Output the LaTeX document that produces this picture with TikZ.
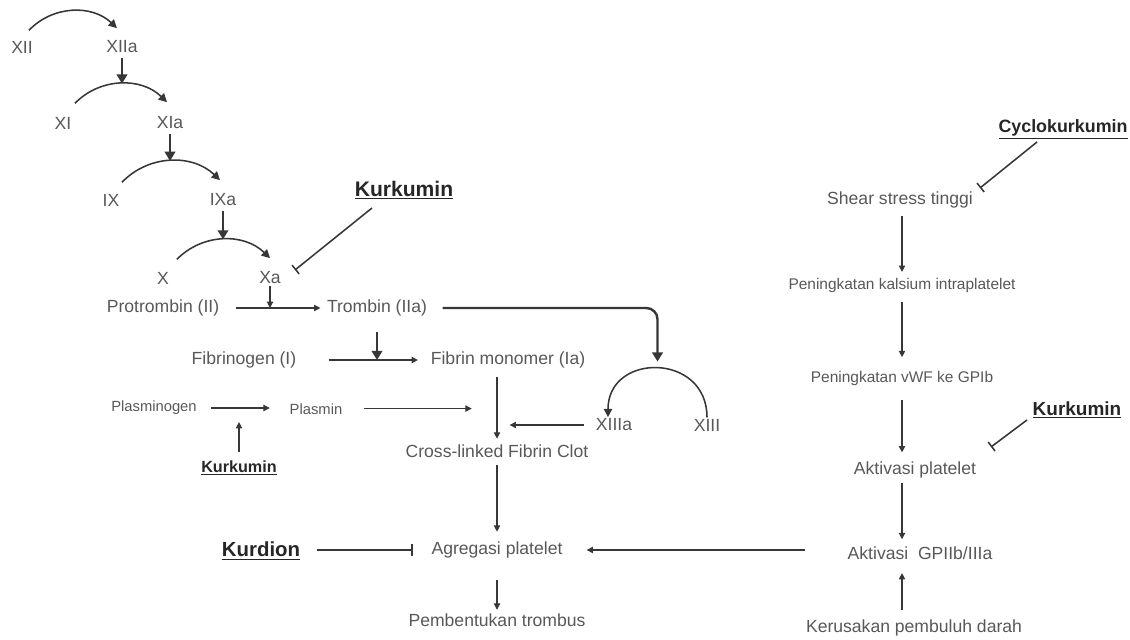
\documentclass[tikz,border=0pt]{standalone}
\usepackage{fontspec}
\setmainfont{Liberation Sans}
\usetikzlibrary{arrows.meta,calc}
\definecolor{txtgray}{RGB}{88,88,88}
\definecolor{drugcol}{RGB}{38,38,38}
\definecolor{linegray}{RGB}{55,55,55}

\tikzset{
  lbl/.style={text=txtgray, inner sep=1pt, font=\fontsize{12.5}{14}\selectfont},
  smlbl/.style={text=txtgray, inner sep=1pt, font=\fontsize{#1}{#1}\selectfont},
  drug/.style={text=drugcol, inner sep=1pt, font=\fontsize{#1}{#1}\selectfont\bfseries},
  act/.style={draw=linegray, line width=0.75pt, -{Triangle[length=4.5pt,width=4.5pt]}},
  bigact/.style={draw=linegray, line width=1.4pt, -{Triangle[length=6.5pt,width=7.5pt]}},
  arcact/.style={draw=linegray, line width=1.1pt, -{Triangle[length=6pt,width=6pt]}},
  inhib/.style={draw=linegray, line width=1.1pt, -{Bar[width=8pt,line width=1.1pt]}},
}

\begin{document}
\begin{tikzpicture}[x=0.025cm, y=0.025cm]
    \useasboundingbox (0,0) rectangle (1130,-639);
    % Cascade
    \node[lbl] (xii) at (22,-47) {XII};
    \node[lbl] (xiia) at (122,-47) {XIIa};
    \node[lbl] (xi) at (63,-123) {XI};
    \node[lbl] (xia) at (170,-123) {XIa};
    \node[lbl] (ix) at (111,-200) {IX};
    \node[lbl] (ixa) at (223,-200) {IXa};
    \node[lbl] (x) at (163,-278) {X};
    \node[lbl] (xa) at (270,-278) {Xa};
    \draw[arcact] ([shift={(7,9)}]xii.north) to[bend left=45] ([shift={(-5,11)}]xiia.north);
    \draw[arcact] ([shift={(12,12)}]xi.north) to[bend left=45] coordinate[pos=0.5] (a2) ([shift={(-3,13)}]xia.north);
    \draw[arcact] ([shift={(11,10)}]ix.north) to[bend left=45] coordinate[pos=0.5] (a3) ([shift={(-3,12)}]ixa.north);
    \draw[arcact] ([shift={(14,11)}]x.north) to[bend left=45] coordinate[pos=0.5] (a4) ([shift={(0,12)}]xa.north);
    \draw[bigact, shorten <=2pt] (xiia.south) -- (xiia.south |- a2);
    \draw[bigact, shorten <=2pt] (xia.south) -- (xia.south |- a3);
    \draw[bigact, shorten <=2pt] (ixa.south) -- (ixa.south |- a4);
    % Kurkumin on Xa
    \node[drug=15] (kurk1) at (404,-190) {\underline{Kurkumin}};
    \draw[inhib] ([shift={(-32,-18)}]kurk1.center) -- ([shift={(25,8)}]xa.center);
    % Trombin
    \node[lbl] (protr) at (163,-308) {Protrombin (II)};
    \node[lbl] (trombin) at (377,-308) {Trombin (IIa)};
    \draw[act, shorten <=11pt, shorten >=3.5pt] (protr.east) -- coordinate[pos=0.36] (p1) (trombin.west);
    \draw[act] (xa.south) -- (xa.south |- p1);
    % Fibrin
    \node[lbl] (fibrinogen) at (244,-360) {Fibrinogen (I)};
    \node[lbl] (fibrinmono) at (508,-360) {Fibrin monomer (Ia)};
    \draw[act, line width=1.1pt, shorten <=22pt, shorten >=8pt] (fibrinogen.east) -- coordinate[pos=0.6] (p2) (fibrinmono.west);
    \draw[bigact, shorten <=10pt] (trombin.south) -- (trombin.south |- p2);
    % Plasmin
    \node[smlbl=10.5] (plasminogen) at (154,-408) {Plasminogen};
    \node[smlbl=10.5] (plasmin) at (316,-409) {Plasmin};
    \draw[act, shorten <=9pt, shorten >=13pt] (plasminogen.east) -- coordinate[pos=0.49] (p3) (plasminogen.east -| plasmin.west);
    \node[drug=11.5] (kurk2) at (239,-468) {\underline{Kurkumin}};
    \draw[act, shorten <=5pt, shorten >=10pt] (kurk2.north) -- (kurk2.north |- p3);
    % Clot
    \node[lbl] (clot) at (497,-451) {Cross-linked Fibrin Clot};
    \draw[act, shorten <=5pt, shorten >=3pt] (fibrinmono.south -| clot.north) -- coordinate[pos=0.53] (v1) coordinate[pos=0.78] (v2) (clot.north);
    \draw[act, shorten <=14pt, shorten >=18pt] (v1 -| plasmin.east) -- (v1);
    \node[lbl] (xiiia) at (614,-425) {XIIIa};
    \node[lbl] (xiii) at (707,-425) {XIII};
    \draw[arcact] (xiii.north) to[out=90, in=90, looseness=1.68] coordinate[pos=0.5] (a5) ([shift={(-6,0)}]xiiia.north);
    \draw[act, shorten <=7pt, shorten >=9pt] (xiiia.west) -- (v2 |- xiiia.west);
    \draw[bigact, line width=1.7pt, rounded corners=8pt, shorten <=10pt, shorten >=5pt] (trombin.east) -| (a5);
    % Platelet
    \node[lbl] (agreg) at (497,-550) {Agregasi platelet};
    \node[lbl] (pemb) at (497,-620) {Pembentukan trombus};
    \node[drug=14.5] (kurdion) at (261,-551) {\underline{Kurdion}};
    \draw[act, shorten <=4pt, shorten >=6pt] (clot.south) -- (agreg.north);
    \draw[act, shorten <=14pt, shorten >=1.5pt] (agreg.south) -- (pemb.north);
    \draw[inhib, shorten <=11pt, shorten >=12pt] (kurdion.east |- agreg.west) -- (agreg.west);
    % Right branch
    \coordinate (rx) at (902,-200);
    \node[drug=12.7] (cyclo) at (1063,-129) {\underline{Cyclokurkumin}};
    \node[lbl] (shear) at (900,-200) {Shear stress tinggi};
    \node[smlbl=11] (kalsium) at (902,-285) {Peningkatan kalsium intraplatelet};
    \node[smlbl=11] (vwf) at (902,-378) {Peningkatan vWF ke GPIb};
    \node[drug=13.5] (kurk3) at (1077,-410) {\underline{Kurkumin}};
    \node[lbl] (aktplt) at (915,-470) {Aktivasi platelet};
    \node[lbl] (gp) at (920,-553) {Aktivasi\ \ GPIIb/IIIa};
    \node[lbl] (kerus) at (914,-628) {Kerusakan pembuluh darah};
    \draw[inhib] ([shift={(-26,-13)}]cyclo.center) -- ([shift={(80,12)}]shear.center);
    \draw[act, shorten <=4pt, shorten >=3pt] (rx |- shear.south) -- (rx |- kalsium.north);
    \draw[act, shorten <=6pt, shorten >=8.5pt] (rx |- kalsium.south) -- (rx |- vwf.north);
    \draw[act, shorten <=9pt, shorten >=5.5pt] (rx |- vwf.south) -- (rx |- aktplt.north);
    \draw[inhib] ([shift={(-50,-10)}]kurk3.center) -- ([shift={(76,23)}]aktplt.center);
    \draw[act, shorten <=2pt, shorten >=4pt] (rx |- aktplt.south) -- (rx |- gp.north);
    \draw[act, shorten <=6pt, shorten >=8.5pt] (rx |- kerus.north) -- (rx |- gp.south);
    \draw[act, shorten <=29pt, shorten >=16pt] (gp.west |- agreg.east) -- (agreg.east);
\end{tikzpicture}
\end{document}
